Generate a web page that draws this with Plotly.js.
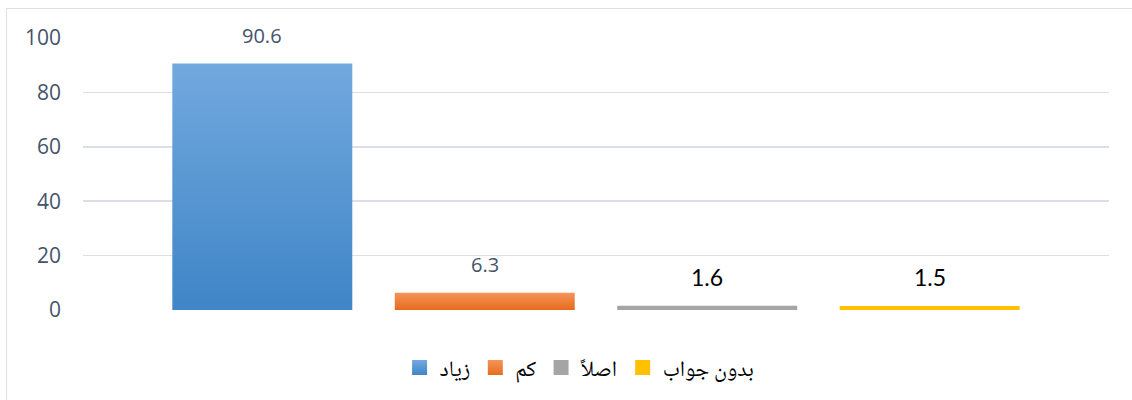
<!DOCTYPE html>
<html>
<head>
<meta charset="utf-8">
<script src="https://cdn.plot.ly/plotly-3.0.1.min.js"></script>
<style>
  html, body { margin: 0; padding: 0; background: #fff; overflow: hidden; }
  #chart { width: 1132px; height: 400px; position: relative; }
  #frame { position: absolute; left: 6px; top: 8px; width: 1140px; height: 400px;
           border: 1.5px solid #dde1e7; pointer-events: none; box-sizing: border-box; }
</style>
</head>
<body>
<div id="chart"></div>
<div id="frame"></div>
<script>
// ---- data ----
const categories = ['زیاد', 'کم', 'اصلاً', 'بدون جواب'];
const values = [90.6, 6.3, 1.6, 1.5];
const valueLabels = ['90.6', '6.3', '1.6', '1.5'];
const yTickValues = [0, 20, 40, 60, 80, 100];
const yTickLabels = ['0', '20', '40', '60', '80', '100'];

// ---- styles ----
const barColors = ['#5a9bd5', '#ed7d31', '#a5a5a5', '#ffc000'];
const gradients = [['#72a9de', '#3f85c7'], ['#f5945a', '#e66c1c'], null, null];
const labelColors = ['#44546a', '#44546a', '#000000', '#000000'];
const labelSizes = [20, 20, 23, 23];
const labelFonts = ['Open Sans', 'Open Sans', 'Lato', 'Lato'];

const traces = categories.map((c, i) => ({
  type: 'bar',
  name: c,
  x: [c],
  y: [values[i]],
  width: 0.809,
  marker: { color: barColors[i], line: { width: 0 } },
  hoverinfo: 'skip'
}));

const annotations = categories.map((c, i) => ({
  x: c,
  y: values[i],
  xref: 'x',
  yref: 'y',
  text: valueLabels[i],
  showarrow: false,
  yanchor: 'bottom',
  yshift: 13,
  font: { family: labelFonts[i], size: labelSizes[i], color: labelColors[i] }
}));

const layout = {
  width: 1132,
  height: 400,
  margin: { l: 83, r: 23, t: 38, b: 89 },
  paper_bgcolor: '#ffffff',
  plot_bgcolor: '#ffffff',
  barmode: 'overlay',
  showlegend: true,
  xaxis: {
    type: 'category',
    range: [-0.806, 3.806],
    showticklabels: false,
    showgrid: false,
    zeroline: false,
    showline: false,
    ticks: ''
  },
  yaxis: {
    range: [0, 100],
    tickvals: yTickValues,
    ticktext: yTickLabels,
    showgrid: true,
    gridcolor: '#dce0e6',
    gridwidth: 1.6,
    zeroline: false,
    showline: false,
    ticks: '',
    ticklabelstandoff: 21,
    tickfont: { family: 'Open Sans', size: 21, color: '#44546a' }
  },
  legend: {
    orientation: 'h',
    x: 0.484,
    xanchor: 'center',
    y: -0.208,
    yanchor: 'middle',
    font: { family: 'Noto Naskh Arabic, DejaVu Serif, DejaVu Sans, serif', size: 22, color: '#000' },
    itemclick: false,
    itemdoubleclick: false
  },
  annotations: annotations
};

Plotly.newPlot('chart', traces, layout, { displayModeBar: false, staticPlot: true }).then(gd => {
  const svg = gd.querySelector('svg.main-svg');
  let defs = svg.querySelector('defs');
  const ns = 'http://www.w3.org/2000/svg';
  gradients.forEach((g, i) => {
    if (!g) return;
    const lg = document.createElementNS(ns, 'linearGradient');
    lg.setAttribute('id', 'grad' + i);
    lg.setAttribute('x1', '0'); lg.setAttribute('y1', '0');
    lg.setAttribute('x2', '0'); lg.setAttribute('y2', '1');
    [[0, g[0]], [1, g[1]]].forEach(([o, c]) => {
      const s = document.createElementNS(ns, 'stop');
      s.setAttribute('offset', o);
      s.setAttribute('stop-color', c);
      lg.appendChild(s);
    });
    defs.appendChild(lg);
  });
  const barTraces = gd.querySelectorAll('.barlayer .trace');
  barTraces.forEach((t, i) => {
    if (!gradients[i]) return;
    t.querySelectorAll('path').forEach(p => { p.style.fill = 'url(#grad' + i + ')'; });
  });
  const legTraces = gd.querySelectorAll('.legend .traces');
  legTraces.forEach((t, i) => {
    t.querySelectorAll('.legendpoints path').forEach(p => {
      p.setAttribute('d', 'M7.5,7.5H-7.5V-7.5H7.5Z');
      if (gradients[i]) p.style.fill = 'url(#grad' + i + ')';
    });
  });
});
</script>
</body>
</html>
